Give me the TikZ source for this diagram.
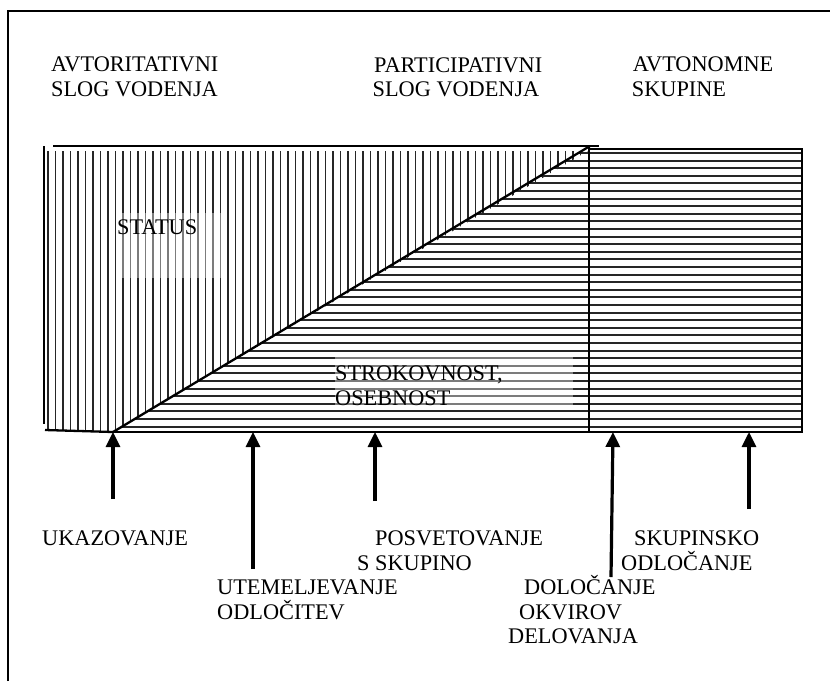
\documentclass[tikz,border=0pt]{standalone}
\usepackage{fontspec}
\setmainfont{Liberation Serif}
\usetikzlibrary{arrows.meta}
\begin{document}
\begin{tikzpicture}[x=1pt,y=-1pt,
  lbl/.style={anchor=base west, inner sep=0pt, font=\fontsize{22.3}{25}\selectfont},
  hatch/.style={line width=1.9pt, black!85},
  frame/.style={line width=2.7pt},
  edge/.style={line width=2.3pt},
  riser/.style={line width=3.2pt, -{Triangle[width=14pt,length=15pt]}},
  veil/.style={fill=white, fill opacity=0.4, draw=none},
]
\useasboundingbox (0,0) rectangle (830,681);

% outer frame
\draw[frame] (8,681) -- (8,11) -- (830,11);

% vertical hatching above the diagonal
\begin{scope}
  \clip (44,151) -- (588,151) -- (113,432) -- (44,430) -- cycle;
  \foreach \x in {48,55.5,...,590} \draw[hatch] (\x,140) -- (\x,440);
\end{scope}

% horizontal hatching below the diagonal and in the right block
\begin{scope}
  \clip (113,432) -- (590,146) -- (802,146) -- (802,432) -- cycle;
  \foreach \y in {153,160.6,...,430} \draw[hatch] (100,\y) -- (805,\y);
\end{scope}

% faded text boxes
\fill[veil] (117,213) rectangle (226,278);
\fill[veil] (335,353) rectangle (573,410);

% outlines
\draw[frame] (53,146) -- (599,146);
\draw[frame] (44,146) -- (44,424);
\draw[edge] (45,430) -- (113,432);
\draw[frame] (113,432) -- (802,432);
\draw[edge] (113,432) -- (590,146);
\draw[frame] (589,149) rectangle (802,432);
\draw[frame] (589,146) -- (589,432);

% heading labels
\node[lbl] (a1) at (51,71.5) {AVTORITATIVNI};
\node[lbl] (a2) at (51,96.5) {SLOG VODENJA};
\node[lbl] (p1) at (374,72) {PARTICIPATIVNI};
\node[lbl] (p2) at (372.5,96.7) {SLOG VODENJA};
\node[lbl] (s1) at (632.7,71.7) {AVTONOMNE};
\node[lbl] (s2) at (631.7,96.7) {SKUPINE};

% labels inside the chart
\node[lbl] (status) at (117,234) {STATUS};
\node[lbl] (strok) at (335,380) {STROKOVNOST,};
\node[lbl] (oseb) at (335,405.5) {OSEBNOST};

% arrow end points
\coordinate (h1) at (113,432);   \coordinate (t1) at (113,499);
\coordinate (h2) at (253,432);   \coordinate (t2) at (253,569);
\coordinate (h3) at (375,432);   \coordinate (t3) at (375,501);
\coordinate (h4) at (613,432);   \coordinate (t4) at (611,577);
\coordinate (h5) at (749,432);   \coordinate (t5) at (749,509);

\draw[riser] (t1) -- (h1);
\draw[riser] (t2) -- (h2);
\draw[riser] (t3) -- (h3);
\draw[riser] (t4) -- (h4);
\draw[riser] (t5) -- (h5);

% labels below the chart
\node[lbl] (uk) at (42,545) {UKAZOVANJE};
\node[lbl] (ut1) at (217,594) {UTEMELJEVANJE};
\node[lbl] (ut2) at (217,619) {ODLOČITEV};
\node[lbl] (po1) at (375,545.5) {POSVETOVANJE};
\node[lbl] (po2) at (357,570) {S SKUPINO};
\node[lbl] (do1) at (524,594.5) {DOLOČANJE};
\node[lbl] (do2) at (519,619) {OKVIROV};
\node[lbl] (do3) at (508,643.5) {DELOVANJA};
\node[lbl] (sk1) at (634,545.5) {SKUPINSKO};
\node[lbl] (sk2) at (621,570) {ODLOČANJE};
\end{tikzpicture}
\end{document}
